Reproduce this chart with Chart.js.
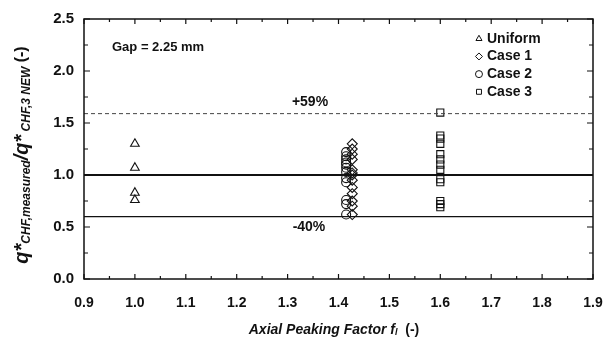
<!DOCTYPE html>
<html>
<head>
<meta charset="utf-8">
<script src="https://cdn.jsdelivr.net/npm/chart.js@4.4.1/dist/chart.umd.min.js"></script>
<style>
  html, body { margin: 0; padding: 0; background: #fff; }
  #wrap { width: 613px; height: 344px; }
</style>
</head>
<body>
<div id="wrap"><canvas id="chart" width="613" height="344"></canvas></div>
<script>
// values
const uniformX = [1.0, 1.0, 1.0, 1.0];
const uniformY = [1.30, 1.07, 0.83, 0.76];

const case1X = 1.427;
const case1Y = [1.30, 1.25, 1.20, 1.15, 1.05, 1.02, 1.00, 0.95, 0.88, 0.82, 0.75, 0.70, 0.62];

const case2X = 1.415;
const case2Y = [1.22, 1.18, 1.15, 1.12, 1.10, 1.07, 1.03, 0.97, 0.93, 0.76, 0.72, 0.62];

const case3X = 1.6;
const case3Y = [1.60, 1.38, 1.35, 1.30, 1.20, 1.15, 1.10, 1.05, 0.96, 0.93, 0.75, 0.72, 0.69];

const refLines = [1.59, 1.0, 0.6];
const xTicks = [0.9, 1.0, 1.1, 1.2, 1.3, 1.4, 1.5, 1.6, 1.7, 1.8, 1.9];
const yTicks = [0.0, 0.5, 1.0, 1.5, 2.0, 2.5];

const legendNames = ["Uniform", "Case 1", "Case 2", "Case 3"];
const legendStyles = ["triangle", "rectRot", "circle", "rect"];

const FONT = "'Liberation Sans', Arial, Helvetica, sans-serif";

function pts(xs, ys) {
  return ys.map((y, i) => ({ x: Array.isArray(xs) ? xs[i] : xs, y }));
}

function markerSet(label, data, style) {
  return {
    type: 'scatter',
    label,
    data,
    pointStyle: style,
    pointRadius: style === 'circle' ? 4.5 : 5,
    pointBorderWidth: 1.1,
    pointBorderColor: '#111',
    pointBackgroundColor: 'rgba(0,0,0,0)',
    showLine: false
  };
}

function refLine(y, width, dash, color) {
  return {
    type: 'line',
    data: [{ x: 0.9, y }, { x: 1.9, y }],
    borderColor: color,
    borderWidth: width,
    borderDash: dash,
    pointRadius: 0,
    fill: false
  };
}

// frame, inward ticks, titles and labels
const decor = {
  id: 'decor',
  afterDraw(chart) {
    const { ctx, chartArea: a, scales: { x, y } } = chart;
    ctx.save();
    ctx.strokeStyle = '#111';
    ctx.lineWidth = 1.5;
    ctx.strokeRect(a.left, a.top, a.right - a.left, a.bottom - a.top);

    ctx.lineWidth = 1.2;
    ctx.beginPath();
    for (let v = 0.9; v <= 1.9001; v += 0.05) {
      const px = x.getPixelForValue(v);
      const major = Math.abs(v * 10 - Math.round(v * 10)) < 0.01;
      const len = major ? 5 : 3;
      ctx.moveTo(px, a.bottom); ctx.lineTo(px, a.bottom - len);
      ctx.moveTo(px, a.top); ctx.lineTo(px, a.top + len);
    }
    for (let v = 0; v <= 2.5001; v += 0.25) {
      const py = y.getPixelForValue(v);
      const major = Math.abs(v * 2 - Math.round(v * 2)) < 0.01;
      const len = major ? 6 : 4;
      ctx.moveTo(a.left, py); ctx.lineTo(a.left + len, py);
      ctx.moveTo(a.right, py); ctx.lineTo(a.right - len, py);
    }
    ctx.stroke();

    ctx.fillStyle = '#111';
    ctx.textBaseline = 'middle';

    // annotations
    ctx.font = `bold 14px ${FONT}`;
    ctx.textAlign = 'center';
    ctx.fillText('+59%', x.getPixelForValue(1.344), y.getPixelForValue(1.70));
    ctx.fillText('-40%', x.getPixelForValue(1.342), y.getPixelForValue(0.50));
    ctx.font = `bold 13px ${FONT}`;
    ctx.textAlign = 'left';
    ctx.fillText('Gap = 2.25 mm', x.getPixelForValue(0.955), y.getPixelForValue(2.23));

    // legend
    ctx.font = `bold 14px ${FONT}`;
    const lx = x.getPixelForValue(1.676);
    legendNames.forEach((name, i) => {
      const ly = y.getPixelForValue(2.31 - i * 0.17);
      ctx.lineWidth = 1;
      ctx.fillStyle = '#fff';
      Chart.helpers.drawPoint(ctx, {
        pointStyle: legendStyles[i], radius: 3.5, borderWidth: 1
      }, lx, ly);
      ctx.fillStyle = '#111';
      ctx.fillText(name, lx + 8, ly);
    });

    // x title
    const xt = [
      ['Axial Peaking Factor ', `italic bold 14px ${FONT}`, 0],
      ['f', `italic bold 14px ${FONT}`, 0],
      ['l', `italic bold 9px ${FONT}`, 3],
      ['  (-)', `bold 14px ${FONT}`, 0]
    ];
    drawRich(ctx, xt, 334, 330);

    // y title (rotated)
    ctx.save();
    ctx.translate(22, 155);
    ctx.rotate(-Math.PI / 2);
    const yt = [
      ['q*', `italic bold 20px ${FONT}`, 0],
      ['CHF,measured', `italic bold 12px ${FONT}`, 5],
      ['/', `italic bold 20px ${FONT}`, 0],
      ['q*', `italic bold 20px ${FONT}`, 0],
      [' CHF,3 NEW', `italic bold 12px ${FONT}`, 5],
      [' (-)', `bold 16px ${FONT}`, 0]
    ];
    drawRich(ctx, yt, 0, 0);
    ctx.restore();
    ctx.restore();
  }
};

function drawRich(ctx, parts, cx, cy) {
  let total = 0;
  parts.forEach(p => { ctx.font = p[1]; total += ctx.measureText(p[0]).width; });
  let px = cx - total / 2;
  ctx.textAlign = 'left';
  ctx.textBaseline = 'middle';
  parts.forEach(p => {
    ctx.font = p[1];
    ctx.fillText(p[0], px, cy + p[2]);
    px += ctx.measureText(p[0]).width;
  });
}

new Chart(document.getElementById('chart'), {
  data: {
    datasets: [
      refLine(refLines[0], 1, [4, 3], '#444'),
      refLine(refLines[1], 2, [], '#111'),
      refLine(refLines[2], 1.3, [], '#111'),
      markerSet('Uniform', pts(uniformX, uniformY), 'triangle'),
      markerSet('Case 1', pts(case1X, case1Y), 'rectRot'),
      markerSet('Case 2', pts(case2X, case2Y), 'circle'),
      markerSet('Case 3', pts(case3X, case3Y), 'rect')
    ]
  },
  options: {
    responsive: false,
    animation: false,
    layout: { padding: { top: 16, right: 20, left: 0, bottom: 0 } },
    plugins: { legend: { display: false }, tooltip: { enabled: false } },
    scales: {
      x: {
        type: 'linear',
        min: 0.9, max: 1.9,
        afterBuildTicks: s => { s.ticks = xTicks.map(v => ({ value: v })); },
        afterFit: s => { s.height = 65; s.paddingLeft = 0; s.paddingRight = 0; },
        grid: { display: false, drawTicks: false },
        border: { display: false },
        ticks: {
          padding: 16,
          color: '#111',
          font: { family: FONT, size: 14, weight: 'bold' },
          callback: v => Number(v).toFixed(1)
        }
      },
      y: {
        type: 'linear',
        min: 0, max: 2.5,
        afterBuildTicks: s => { s.ticks = yTicks.map(v => ({ value: v })); },
        afterFit: s => { s.width = 84; },
        grid: { display: false, drawTicks: false },
        border: { display: false },
        ticks: {
          padding: 10,
          color: '#111',
          font: { family: FONT, size: 15, weight: 'bold' },
          callback: v => Number(v).toFixed(1)
        }
      }
    }
  },
  plugins: [decor]
});
</script>
</body>
</html>
